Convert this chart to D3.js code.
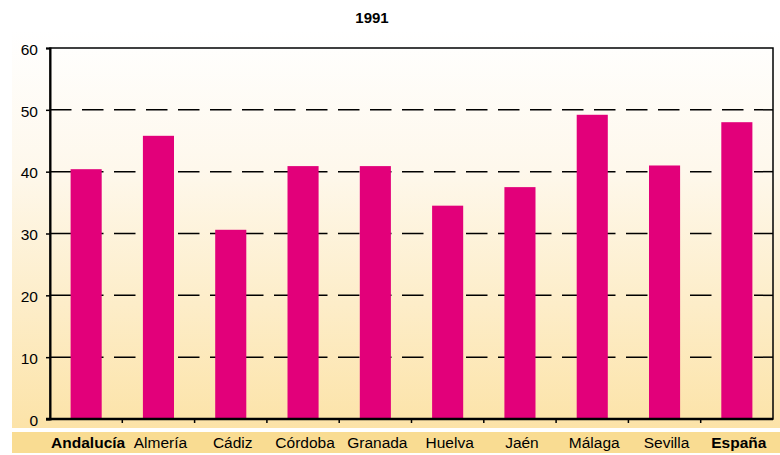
<!DOCTYPE html>
<html>
<head>
<meta charset="utf-8">
<script src="https://cdn.jsdelivr.net/npm/d3@7"></script>
<style>
    body { margin: 0; background: #fff; }
    svg { display: block; font-family: "Liberation Sans", Arial, sans-serif; }
</style>
</head>
<body>
<svg id="chart" width="780" height="455"></svg>
<script>
const title = "1991";
const provinces = ["Andalucía", "Almería", "Cádiz", "Córdoba", "Granada", "Huelva", "Jaén", "Málaga", "Sevilla", "España"];
const values = [40.4, 45.8, 30.6, 40.9, 40.9, 34.5, 37.5, 49.2, 41.0, 48.0];
const boldLabels = ["Andalucía", "España"];
const yTicks = [0, 10, 20, 30, 40, 50, 60];

const width = 780;
const height = 455;
const margin = { top: 48, right: 7, bottom: 36, left: 50 };

const svg = d3.select("#chart");

// background gradient panel
const defs = svg.append("defs");
const grad = defs
    .append("linearGradient")
    .attr("id", "panelGrad")
    .attr("x1", 0).attr("y1", 0)
    .attr("x2", 0).attr("y2", 1);
grad.append("stop").attr("offset", "0%").attr("stop-color", "#ffffff");
grad.append("stop").attr("offset", "35%").attr("stop-color", "#fef8ec");
grad.append("stop").attr("offset", "100%").attr("stop-color", "#fce3a8");

svg.append("rect")
    .attr("x", 12)
    .attr("y", 30)
    .attr("width", width - 12)
    .attr("height", 398)
    .attr("fill", "url(#panelGrad)");

// label band
svg.append("rect")
    .attr("x", 12)
    .attr("y", 432)
    .attr("width", width - 12)
    .attr("height", 21)
    .attr("fill", "#f9dc92");

const x = d3
    .scaleBand()
    .domain(provinces)
    .range([margin.left, width - margin.right])
    .paddingInner(0.57)
    .paddingOuter(0.285);

const xTicks = d3
    .scaleBand()
    .domain(provinces)
    .range([margin.left, width - margin.right]);

const y = d3
    .scaleLinear()
    .domain([0, 60])
    .range([height - margin.bottom, margin.top]);

// dashed gridlines
svg.append("g")
    .selectAll("line")
    .data(yTicks.filter((d) => d > 0 && d < 60))
    .join("line")
    .attr("x1", margin.left)
    .attr("x2", width - margin.right)
    .attr("y1", (d) => y(d))
    .attr("y2", (d) => y(d))
    .attr("stroke", "#000")
    .attr("stroke-width", 1.5)
    .attr("stroke-dasharray", "21.5,10.5");

// bars
svg.append("g")
    .selectAll("rect")
    .data(provinces)
    .join("rect")
    .attr("x", (d) => x(d))
    .attr("y", (d, i) => y(values[i]))
    .attr("width", x.bandwidth())
    .attr("height", (d, i) => y(0) - y(values[i]))
    .attr("fill", "#e2007a");

// frame
svg.append("rect")
    .attr("x", margin.left)
    .attr("y", margin.top)
    .attr("width", width - margin.left - margin.right)
    .attr("height", y(0) - margin.top)
    .attr("fill", "none")
    .attr("stroke", "#000")
    .attr("stroke-width", 1.5);

// y axis
const yAxis = svg.append("g")
    .attr("transform", `translate(${margin.left},0)`)
    .call(d3.axisLeft(y).tickValues(yTicks).tickSize(4).tickPadding(8));
yAxis.select(".domain").attr("stroke-width", 2);
yAxis.selectAll(".tick line").attr("stroke-width", 1.5);
yAxis.selectAll("text")
    .attr("font-size", 15.5)
    .attr("font-family", "Liberation Sans, Arial, sans-serif")
    .attr("fill", "#000")
    .attr("dy", "0.4em");

// x axis ticks at band boundaries
svg.append("g")
    .selectAll("line")
    .data(provinces.slice(1))
    .join("line")
    .attr("x1", (d) => xTicks(d))
    .attr("x2", (d) => xTicks(d))
    .attr("y1", y(0))
    .attr("y2", y(0) + 4)
    .attr("stroke", "#000")
    .attr("stroke-width", 1.5);

svg.append("line")
    .attr("x1", margin.left - 4)
    .attr("x2", width - margin.right)
    .attr("y1", y(0))
    .attr("y2", y(0))
    .attr("stroke", "#000")
    .attr("stroke-width", 2.5);

// category labels
svg.append("g")
    .selectAll("text")
    .data(provinces)
    .join("text")
    .attr("x", (d) => xTicks(d) + xTicks.bandwidth() / 2 + 2)
    .attr("y", 448)
    .attr("text-anchor", "middle")
    .attr("font-size", 15.5)
    .attr("font-weight", (d) => (boldLabels.includes(d) ? "bold" : "normal"))
    .attr("fill", "#000")
    .text((d) => d);

// title
svg.append("text")
    .attr("x", 372)
    .attr("y", 23)
    .attr("text-anchor", "middle")
    .attr("font-size", 15)
    .attr("font-weight", "bold")
    .text(title);
</script>
</body>
</html>
